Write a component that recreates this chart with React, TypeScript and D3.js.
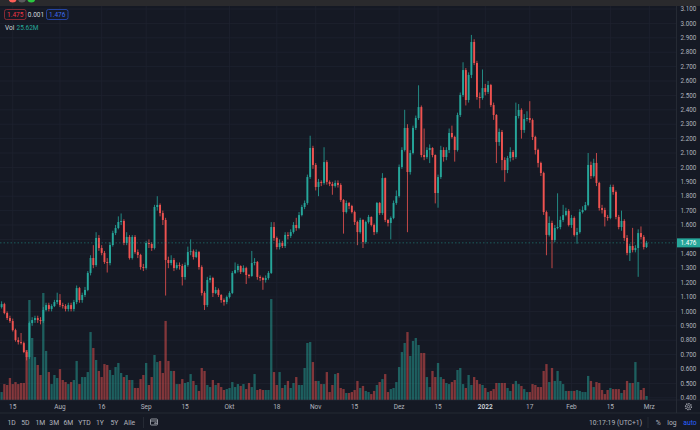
import React, { useEffect } from 'react';
import * as d3 from 'd3';

// daily candles, first one is 2021-07-11
const START = Date.UTC(2021, 6, 11);
const DAY = 86400000;
const firstOpen = 1.03;

const closes = [
  1.051, 0.989, 0.954, 0.933, 0.870, 0.801, 0.787, 0.780, 0.718, 0.683,
  0.919, 0.940, 0.954, 0.940, 0.933, 1.010, 1.044, 1.017, 1.037, 1.065,
  1.079, 1.044, 1.037, 1.017, 1.044, 1.017, 1.065, 1.162, 1.079, 1.114,
  1.149, 1.267, 1.371, 1.322, 1.510, 1.440, 1.406, 1.343, 1.336, 1.461,
  1.544, 1.579, 1.621, 1.628, 1.475, 1.517, 1.371, 1.517, 1.412, 1.392,
  1.308, 1.301, 1.475, 1.468, 1.440, 1.725, 1.739, 1.683, 1.635, 1.357,
  1.336, 1.357, 1.301, 1.322, 1.315, 1.239, 1.322, 1.412, 1.418, 1.378,
  1.412, 1.308, 1.128, 1.044, 1.218, 1.232, 1.128, 1.149, 1.114, 1.079,
  1.065, 1.100, 1.128, 1.267, 1.287, 1.315, 1.274, 1.301, 1.253, 1.246,
  1.336, 1.343, 1.239, 1.232, 1.218, 1.232, 1.267, 1.586, 1.510, 1.447,
  1.475, 1.454, 1.531, 1.524, 1.551, 1.600, 1.579, 1.669, 1.725, 1.753,
  1.933, 2.135, 2.017, 1.864, 1.899, 1.892, 2.037, 1.899, 1.885, 1.871,
  1.892, 1.878, 1.774, 1.690, 1.753, 1.732, 1.690, 1.621, 1.551, 1.635,
  1.482, 1.621, 1.656, 1.600, 1.551, 1.753, 1.683, 1.926, 1.635, 1.614,
  1.649, 1.753, 1.801, 2.003, 2.121, 2.274, 1.968, 2.100, 2.274, 2.343,
  2.419, 2.086, 2.072, 2.121, 2.135, 2.086, 1.822, 1.933, 2.121, 2.072,
  2.121, 2.239, 2.211, 2.121, 2.364, 2.503, 2.676, 2.468, 2.642, 2.871,
  2.725, 2.489, 2.482, 2.551, 2.524, 2.572, 2.433, 2.364, 2.176, 2.246,
  2.051, 1.982, 2.065, 2.107, 2.072, 2.357, 2.399, 2.260, 2.336, 2.343,
  2.329, 2.211, 2.121, 2.031, 1.961, 1.690, 1.531, 1.614, 1.496, 1.579,
  1.586, 1.635, 1.669, 1.697, 1.600, 1.649, 1.531, 1.551, 1.690, 1.704,
  1.739, 2.017, 1.940, 2.031, 1.892, 1.718, 1.704, 1.656, 1.649, 1.864,
  1.829, 1.656, 1.586, 1.628, 1.510, 1.406, 1.454, 1.426, 1.440, 1.544,
  1.517, 1.447, 1.476,
];

const highs = [
  1.07, 1.06, 1.00, 0.97, 0.95, 0.88, 0.82, 0.85, 0.79, 0.73,
  0.93, 0.96, 0.97, 0.97, 0.96, 1.03, 1.06, 1.06, 1.05, 1.08,
  1.13, 1.12, 1.06, 1.05, 1.06, 1.06, 1.08, 1.18, 1.17, 1.13,
  1.17, 1.28, 1.39, 1.46, 1.55, 1.53, 1.46, 1.42, 1.37, 1.48,
  1.56, 1.60, 1.66, 1.68, 1.64, 1.55, 1.53, 1.53, 1.53, 1.43,
  1.40, 1.33, 1.49, 1.50, 1.48, 1.74, 1.80, 1.75, 1.70, 1.65,
  1.38, 1.39, 1.37, 1.34, 1.34, 1.33, 1.34, 1.45, 1.50, 1.43,
  1.43, 1.42, 1.32, 1.14, 1.24, 1.25, 1.24, 1.17, 1.16, 1.12,
  1.09, 1.11, 1.14, 1.28, 1.34, 1.33, 1.32, 1.32, 1.31, 1.26,
  1.42, 1.37, 1.35, 1.25, 1.24, 1.25, 1.28, 1.62, 1.62, 1.52,
  1.50, 1.49, 1.55, 1.55, 1.57, 1.62, 1.65, 1.69, 1.74, 1.77,
  1.95, 2.22, 2.15, 2.03, 1.92, 1.91, 2.14, 2.05, 1.91, 1.90,
  1.91, 1.91, 1.89, 1.78, 1.77, 1.76, 1.74, 1.70, 1.63, 1.65,
  1.64, 1.63, 1.67, 1.66, 1.61, 1.76, 1.76, 1.96, 1.93, 1.64,
  1.66, 1.77, 1.84, 2.02, 2.14, 2.40, 2.30, 2.12, 2.29, 2.36,
  2.57, 2.43, 2.27, 2.14, 2.16, 2.14, 2.09, 1.95, 2.15, 2.14,
  2.14, 2.27, 2.29, 2.22, 2.38, 2.52, 2.73, 2.69, 2.66, 2.92,
  2.89, 2.74, 2.52, 2.68, 2.58, 2.60, 2.58, 2.45, 2.37, 2.27,
  2.26, 2.07, 2.08, 2.14, 2.12, 2.45, 2.44, 2.41, 2.37, 2.39,
  2.46, 2.34, 2.22, 2.13, 2.04, 1.97, 1.70, 1.66, 1.63, 1.60,
  1.82, 1.66, 1.74, 1.72, 1.71, 1.67, 1.66, 1.58, 1.71, 1.73,
  1.76, 2.10, 2.04, 2.06, 2.10, 1.90, 1.74, 1.72, 1.67, 1.88,
  1.88, 1.84, 1.67, 1.70, 1.64, 1.53, 1.47, 1.58, 1.46, 1.57,
  1.59, 1.53, 1.49,
];

const lows = [
  1.02, 0.98, 0.94, 0.92, 0.86, 0.79, 0.77, 0.77, 0.71, 0.66,
  0.67, 0.90, 0.92, 0.92, 0.91, 0.92, 1.00, 1.00, 1.00, 1.03,
  1.05, 1.03, 1.02, 1.00, 1.00, 1.00, 1.00, 1.05, 1.06, 1.06,
  1.10, 1.14, 1.25, 1.30, 1.31, 1.42, 1.39, 1.33, 1.27, 1.32,
  1.45, 1.53, 1.57, 1.60, 1.46, 1.46, 1.36, 1.36, 1.40, 1.37,
  1.29, 1.28, 1.29, 1.44, 1.42, 1.43, 1.70, 1.66, 1.60, 1.11,
  1.30, 1.32, 1.28, 1.29, 1.29, 1.18, 1.22, 1.31, 1.39, 1.36,
  1.37, 1.29, 1.11, 1.01, 1.03, 1.20, 1.10, 1.12, 1.10, 1.06,
  1.04, 1.05, 1.09, 1.12, 1.26, 1.27, 1.26, 1.27, 1.19, 1.23,
  1.24, 1.32, 1.22, 1.21, 1.15, 1.20, 1.22, 1.26, 1.49, 1.43,
  1.43, 1.44, 1.44, 1.50, 1.51, 1.54, 1.56, 1.57, 1.66, 1.71,
  1.74, 1.92, 1.99, 1.84, 1.80, 1.87, 1.88, 1.88, 1.87, 1.81,
  1.86, 1.86, 1.76, 1.54, 1.68, 1.71, 1.68, 1.60, 1.46, 1.54,
  1.44, 1.47, 1.61, 1.59, 1.53, 1.54, 1.67, 1.67, 1.62, 1.59,
  1.50, 1.64, 1.74, 1.79, 1.99, 2.11, 1.55, 1.95, 2.09, 2.26,
  2.33, 2.07, 2.05, 2.06, 2.03, 2.07, 1.75, 1.72, 1.92, 2.04,
  2.05, 2.10, 2.20, 2.04, 2.11, 2.35, 2.49, 2.43, 2.45, 2.62,
  2.71, 2.47, 2.41, 2.47, 2.50, 2.51, 2.42, 2.33, 2.03, 2.15,
  1.98, 1.90, 1.96, 2.04, 2.05, 2.06, 2.34, 2.20, 2.24, 2.32,
  2.31, 2.19, 2.09, 2.00, 1.94, 1.67, 1.39, 1.52, 1.30, 1.48,
  1.57, 1.57, 1.62, 1.66, 1.59, 1.58, 1.52, 1.47, 1.54, 1.68,
  1.70, 1.73, 1.92, 1.93, 1.87, 1.70, 1.68, 1.59, 1.63, 1.64,
  1.81, 1.64, 1.57, 1.56, 1.49, 1.39, 1.35, 1.41, 1.41, 1.24,
  1.50, 1.43, 1.44,
];

// volume in millions
const volumes = [
  51, 102, 96, 141, 102, 115, 102, 109, 109, 320,
  640, 397, 275, 224, 160, 685, 314, 179, 102, 160,
  141, 198, 128, 115, 102, 115, 128, 250, 102, 147,
  147, 179, 435, 333, 256, 186, 147, 230, 224, 192,
  160, 211, 237, 173, 147, 160, 128, 128, 77, 77,
  134, 160, 237, 96, 147, 288, 243, 250, 173, 506,
  250, 186, 186, 102, 102, 134, 109, 115, 166, 122,
  96, 58, 205, 186, 96, 83, 128, 96, 109, 83,
  64, 70, 77, 115, 83, 102, 90, 102, 70, 109,
  83, 166, 64, 70, 64, 64, 64, 646, 179, 96,
  179, 77, 96, 122, 77, 109, 147, 96, 96, 205,
  365, 371, 243, 122, 122, 102, 102, 179, 51, 96,
  166, 173, 77, 70, 45, 45, 51, 64, 122, 77,
  90, 58, 51, 38, 58, 96, 115, 134, 166, 51,
  70, 77, 115, 211, 307, 365, 435, 282, 378, 397,
  352, 301, 301, 147, 83, 186, 147, 237, 147, 134,
  109, 102, 115, 128, 192, 205, 102, 77, 160, 96,
  147, 128, 102, 96, 77, 51, 58, 70, 109, 109,
  109, 109, 77, 58, 102, 122, 102, 90, 70, 51,
  51, 102, 96, 83, 83, 186, 230, 115, 205, 122,
  186, 122, 102, 58, 58, 58, 58, 64, 58, 51,
  51, 154, 122, 83, 115, 109, 64, 38, 64, 77,
  70, 70, 70, 45, 64, 122, 109, 109, 243, 115,
  64, 77, 25.62,
];

const timeTicks = [
  '2021-07-15', '2021-08-01', '2021-08-16', '2021-09-01', '2021-09-15', '2021-10-01',
  '2021-10-18', '2021-11-01', '2021-11-15', '2021-12-01', '2021-12-15', '2022-01-01',
  '2022-01-17', '2022-02-01', '2022-02-15', '2022-03-01',
];
const timeLabels = ['15', 'Aug', '16', 'Sep', '15', 'Okt', '18', 'Nov', '15', 'Dez', '15', '2022', '17', 'Feb', '15', 'Mrz'];

const priceTicks = [
  3.1, 3.0, 2.9, 2.8, 2.7, 2.6, 2.5, 2.4, 2.3, 2.2, 2.1, 2.0, 1.9, 1.8,
  1.7, 1.6, 1.5, 1.4, 1.3, 1.2, 1.1, 1.0, 0.9, 0.8, 0.7, 0.6, 0.5, 0.4,
];

const rangeButtons = ['1D', '5D', '1M', '3M', '6M', 'YTD', '1Y', '5Y', 'Alle'];

const bidPrice = '1.475';
const spread = '0.001';
const askPrice = '1.476';
const lastVolume = '25.62M';
const clock = '10:17:19 (UTC+1)';

// layout
const W = 700;
const H = 430;
const TOP = 6;
const PLOT_R = 676.5;
const PLOT_B = 400;
const BG = '#151924';
const GRID = '#1e2230';
const SEP = '#2a2e39';
const TEXT = '#b2b5be';
const UP = '#26a69a';
const DOWN = '#ef5350';
const FONT = 'Roboto, "Noto Sans", sans-serif';
const rangeX = [11.7, 25.3, 40.3, 54.2, 68.3, 84.5, 100, 114.4, 129.5];

export default function App() {
  useEffect(() => {
    document.body.style.margin = '0';
    document.body.style.background = BG;
  }, []);

  const x = d3
    .scaleUtc()
    .domain([new Date(START), new Date(Date.UTC(2022, 2, 1))])
    .range([1.6, 649.3]);
  const y = d3.scaleLinear().domain([0.4, 3.1]).range([397.8, 9]);
  const yVol = d3.scaleLinear().domain([0, 704]).range([PLOT_B, 290]);
  const fmt = d3.format('.3f');

  const candles = closes.map((c, i) => ({
    date: new Date(START + i * DAY),
    open: i === 0 ? firstOpen : closes[i - 1],
    high: highs[i],
    low: lows[i],
    close: c,
    volume: volumes[i],
  }));
  const last = candles[candles.length - 1];
  const lastY = y(last.close);

  return (
    <svg width={W} height={H} style={{ display: 'block', fontFamily: FONT }}>
      <defs>
        <clipPath id="plot">
          <rect x={0} y={TOP} width={PLOT_R} height={PLOT_B - TOP} />
        </clipPath>
      </defs>
      <rect width={W} height={H} fill={BG} />

      {/* grid */}
      <g stroke={GRID} strokeWidth={0.8}>
        {priceTicks.map((p) => (
          <line key={p} x1={0} x2={PLOT_R} y1={y(p)} y2={y(p)} />
        ))}
        {timeTicks.map((t) => {
          const xx = x(new Date(t + 'T00:00:00Z'));
          return <line key={t} x1={xx} x2={xx} y1={TOP} y2={PLOT_B} />;
        })}
      </g>

      <g clipPath="url(#plot)">
        {/* volume */}
        {candles.map((d, i) => {
          const cx = x(d.date);
          return (
            <rect
              key={'v' + i}
              x={cx - 1.15}
              width={2.3}
              y={yVol(d.volume)}
              height={PLOT_B - yVol(d.volume)}
              fill={d.close >= d.open ? UP : DOWN}
              opacity={0.5}
            />
          );
        })}

        {/* candles */}
        {candles.map((d, i) => {
          const cx = x(d.date);
          const col = d.close >= d.open ? UP : DOWN;
          const top = y(Math.max(d.open, d.close));
          const bot = y(Math.min(d.open, d.close));
          return (
            <g key={'c' + i}>
              <line x1={cx} x2={cx} y1={y(d.high)} y2={y(d.low)} stroke={col} strokeWidth={0.8} />
              <rect x={cx - 0.95} width={1.9} y={top} height={Math.max(0.7, bot - top)} fill={col} />
            </g>
          );
        })}

        {/* last price line */}
        <line
          x1={0}
          x2={PLOT_R}
          y1={lastY}
          y2={lastY}
          stroke={UP}
          strokeWidth={0.8}
          strokeDasharray="1.5 2"
          opacity={0.6}
        />
      </g>

      {/* window title bar */}
      <rect width={W} height={TOP} fill="#2a2a2d" />
      <circle cx={12.7} cy={-1.5} r={4} fill="#fe5f57" />
      <circle cx={22} cy={-1.5} r={4} fill="#5b5b5e" />
      <circle cx={31.3} cy={-1.5} r={4} fill="#2ac840" />

      {/* legend */}
      <g fontSize={6.5}>
        <rect x={4.5} y={9.5} width={21.5} height={10} rx={2} fill={BG} stroke="#a1303a" strokeWidth={0.8} />
        <text x={15.25} y={16.7} textAnchor="middle" fill="#f23645">{bidPrice}</text>
        <text x={36} y={16.7} textAnchor="middle" fill="#d1d4dc">{spread}</text>
        <rect x={46.5} y={9.5} width={21.5} height={10} rx={2} fill={BG} stroke="#2a4fc0" strokeWidth={0.8} />
        <text x={57.25} y={16.7} textAnchor="middle" fill="#3d6cf0">{askPrice}</text>
        <text x={5} y={29.6} fill="#d1d4dc">Vol</text>
        <text x={16.5} y={29.6} fill={UP}>{lastVolume}</text>
      </g>

      {/* price axis */}
      <g fontSize={6.3} fill={TEXT}>
        {priceTicks
          .filter((p) => Math.abs(y(p) - lastY) > 8)
          .map((p) => (
            <text key={p} x={680.5} y={y(p)} dy="0.35em">
              {fmt(p)}
            </text>
          ))}
      </g>
      <rect x={677} y={lastY - 4.5} width={23} height={9} fill={UP} />
      <text x={680.5} y={lastY} dy="0.35em" fontSize={6.3} fill="#ffffff">
        {fmt(last.close)}
      </text>

      {/* separators */}
      <line x1={PLOT_R} x2={PLOT_R} y1={TOP} y2={413} stroke={SEP} strokeWidth={0.8} />
      <line x1={0} x2={W} y1={PLOT_B} y2={PLOT_B} stroke={SEP} strokeWidth={0.6} />
      <line x1={0} x2={W} y1={413} y2={413} stroke={SEP} strokeWidth={0.8} />

      {/* time axis */}
      <g fontSize={6.5} textAnchor="middle">
        {timeTicks.map((t, i) => (
          <text
            key={t}
            x={x(new Date(t + 'T00:00:00Z'))}
            y={409}
            fill={timeLabels[i] === '2022' ? '#d1d4dc' : TEXT}
            fontWeight={timeLabels[i] === '2022' ? 600 : 400}
          >
            {timeLabels[i]}
          </text>
        ))}
      </g>
      <g transform="translate(688.5,406.6)" fill="none" stroke={TEXT}>
        <circle r={2.9} strokeWidth={1.4} strokeDasharray="1.2 1" />
        <circle r={1.2} strokeWidth={0.7} />
      </g>

      {/* bottom toolbar */}
      <g fontSize={6.8} fill={TEXT} textAnchor="middle">
        {rangeButtons.map((r, i) => (
          <text key={r} x={rangeX[i]} y={424.8}>
            {r}
          </text>
        ))}
      </g>
      <line x1={143.5} x2={143.5} y1={417} y2={428} stroke={SEP} strokeWidth={0.8} />
      <g transform="translate(150.5,419)" fill="none" stroke={TEXT} strokeWidth={0.8}>
        <rect x={0} y={0} width={7} height={6} rx={0.8} />
        <line x1={0} x2={7} y1={2} y2={2} />
        <path d="M3.5 4.2 L6 4.2 M5 3.2 L6 4.2 L5 5.2" />
      </g>
      <text x={589} y={424.8} fontSize={6.8} fill={TEXT}>
        {clock}
      </text>
      <line x1={648} x2={648} y1={417} y2={428} stroke={SEP} strokeWidth={0.8} />
      <g fontSize={6.8} textAnchor="middle">
        <text x={658.3} y={424.8} fill={TEXT}>%</text>
        <text x={672} y={424.8} fill={TEXT}>log</text>
        <text x={690} y={424.8} fill="#2962ff">auto</text>
      </g>
    </svg>
  );
}
